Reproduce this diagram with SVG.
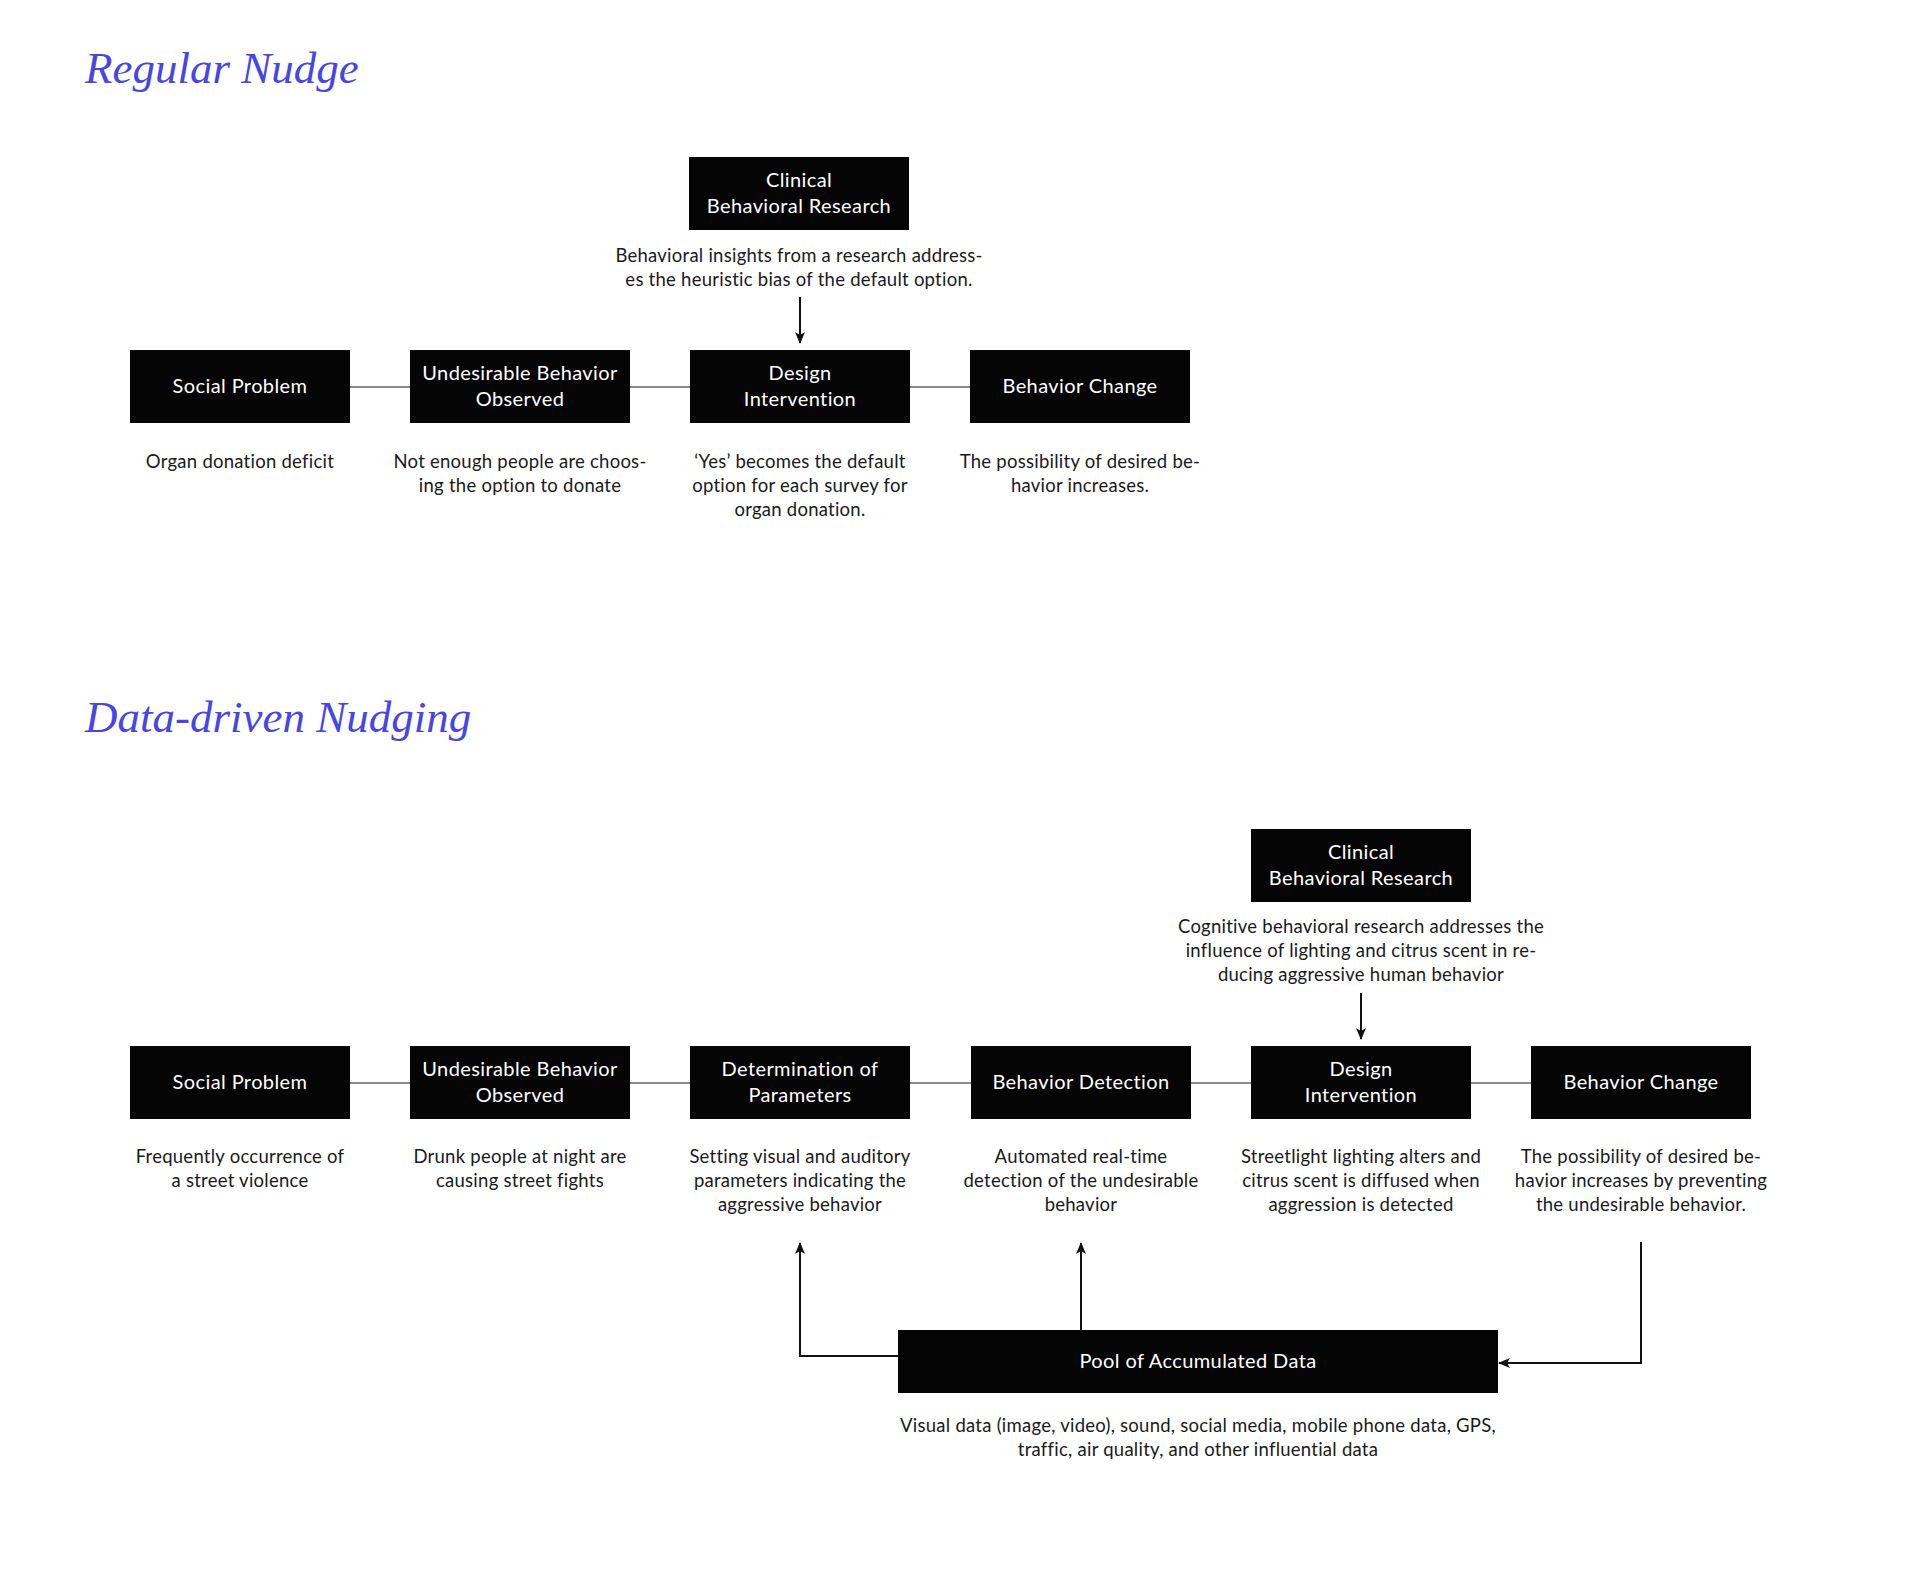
<svg xmlns="http://www.w3.org/2000/svg" width="1912" height="1592" viewBox="0 0 1912 1592">
<style>
.title{font-family:"Liberation Serif",serif;font-style:italic;font-size:45px;fill:#4646E6}
.box{fill:#050505}
.lbl{font-family:Lato,"Open Sans",sans-serif;font-size:20px;letter-spacing:0.4px;fill:#fff;text-anchor:middle}
.desc{font-family:Lato,"Open Sans",sans-serif;font-size:18.5px;letter-spacing:0.25px;fill:#1a1a1a;text-anchor:middle}
.link{stroke:#8a8a8a;stroke-width:2;fill:none}
.arr{stroke:#111;stroke-width:2;fill:none;marker-end:url(#ah)}
</style>
<defs>
<marker id="ah" viewBox="0 0 12 12" refX="11" refY="6" markerWidth="12" markerHeight="12" markerUnits="userSpaceOnUse" orient="auto">
<path d="M0,1 L12,6 L0,11 L3,6 z" fill="#111"/>
</marker>
</defs>
<rect width="1912" height="1592" fill="#fff"/>
<text class="title" x="85" y="83">Regular Nudge</text>
<text class="title" x="85" y="732">Data-driven Nudging</text>

<g id="connectors">
<line class="link" x1="350" y1="387" x2="410" y2="387"/>
<line class="link" x1="630" y1="387" x2="690" y2="387"/>
<line class="link" x1="910" y1="387" x2="970" y2="387"/>
<line class="arr" x1="800" y1="297" x2="800" y2="343"/>
<line class="link" x1="350" y1="1083" x2="410" y2="1083"/>
<line class="link" x1="630" y1="1083" x2="690" y2="1083"/>
<line class="link" x1="910" y1="1083" x2="971" y2="1083"/>
<line class="link" x1="1191" y1="1083" x2="1251" y2="1083"/>
<line class="link" x1="1471" y1="1083" x2="1531" y2="1083"/>
<line class="arr" x1="1361" y1="993" x2="1361" y2="1039"/>
<polyline class="arr" points="898,1356 800,1356 800,1243"/>
<line class="arr" x1="1081" y1="1330" x2="1081" y2="1243"/>
<polyline class="arr" points="1641,1242 1641,1363 1499,1363"/>
</g>

<g id="top-clinical">
<rect class="box" x="689" y="157" width="220" height="73"/>
<text class="lbl" x="799" y="187">Clinical</text>
<text class="lbl" x="799" y="213">Behavioral Research</text>
<text class="desc" x="799" y="262">Behavioral insights from a research address-</text>
<text class="desc" x="799" y="286">es the heuristic bias of the default option.</text>
</g>
<g id="top-social">
<rect class="box" x="130" y="350" width="220" height="73"/>
<text class="lbl" x="240" y="393">Social Problem</text>
<text class="desc" x="240" y="468">Organ donation deficit</text>
</g>
<g id="top-undesirable">
<rect class="box" x="410" y="350" width="220" height="73"/>
<text class="lbl" x="520" y="380">Undesirable Behavior</text>
<text class="lbl" x="520" y="406">Observed</text>
<text class="desc" x="520" y="468">Not enough people are choos-</text>
<text class="desc" x="520" y="492">ing the option to donate</text>
</g>
<g id="top-design">
<rect class="box" x="690" y="350" width="220" height="73"/>
<text class="lbl" x="800" y="380">Design</text>
<text class="lbl" x="800" y="406">Intervention</text>
<text class="desc" x="800" y="468">‘Yes’ becomes the default</text>
<text class="desc" x="800" y="492">option for each survey for</text>
<text class="desc" x="800" y="516">organ donation.</text>
</g>
<g id="top-change">
<rect class="box" x="970" y="350" width="220" height="73"/>
<text class="lbl" x="1080" y="393">Behavior Change</text>
<text class="desc" x="1080" y="468">The possibility of desired be-</text>
<text class="desc" x="1080" y="492">havior increases.</text>
</g>

<g id="bot-clinical">
<rect class="box" x="1251" y="829" width="220" height="73"/>
<text class="lbl" x="1361" y="859">Clinical</text>
<text class="lbl" x="1361" y="885">Behavioral Research</text>
<text class="desc" x="1361" y="933">Cognitive behavioral research addresses the</text>
<text class="desc" x="1361" y="957">influence of lighting and citrus scent in re-</text>
<text class="desc" x="1361" y="981">ducing aggressive human behavior</text>
</g>
<g id="bot-social">
<rect class="box" x="130" y="1046" width="220" height="73"/>
<text class="lbl" x="240" y="1089">Social Problem</text>
<text class="desc" x="240" y="1163">Frequently occurrence of</text>
<text class="desc" x="240" y="1187">a street violence</text>
</g>
<g id="bot-undesirable">
<rect class="box" x="410" y="1046" width="220" height="73"/>
<text class="lbl" x="520" y="1076">Undesirable Behavior</text>
<text class="lbl" x="520" y="1102">Observed</text>
<text class="desc" x="520" y="1163">Drunk people at night are</text>
<text class="desc" x="520" y="1187">causing street fights</text>
</g>
<g id="bot-determination">
<rect class="box" x="690" y="1046" width="220" height="73"/>
<text class="lbl" x="800" y="1076">Determination of</text>
<text class="lbl" x="800" y="1102">Parameters</text>
<text class="desc" x="800" y="1163">Setting visual and auditory</text>
<text class="desc" x="800" y="1187">parameters indicating the</text>
<text class="desc" x="800" y="1211">aggressive behavior</text>
</g>
<g id="bot-detection">
<rect class="box" x="971" y="1046" width="220" height="73"/>
<text class="lbl" x="1081" y="1089">Behavior Detection</text>
<text class="desc" x="1081" y="1163">Automated real-time</text>
<text class="desc" x="1081" y="1187">detection of the undesirable</text>
<text class="desc" x="1081" y="1211">behavior</text>
</g>
<g id="bot-design">
<rect class="box" x="1251" y="1046" width="220" height="73"/>
<text class="lbl" x="1361" y="1076">Design</text>
<text class="lbl" x="1361" y="1102">Intervention</text>
<text class="desc" x="1361" y="1163">Streetlight lighting alters and</text>
<text class="desc" x="1361" y="1187">citrus scent is diffused when</text>
<text class="desc" x="1361" y="1211">aggression is detected</text>
</g>
<g id="bot-change">
<rect class="box" x="1531" y="1046" width="220" height="73"/>
<text class="lbl" x="1641" y="1089">Behavior Change</text>
<text class="desc" x="1641" y="1163">The possibility of desired be-</text>
<text class="desc" x="1641" y="1187">havior increases by preventing</text>
<text class="desc" x="1641" y="1211">the undesirable behavior.</text>
</g>
<g id="pool">
<rect class="box" x="898" y="1330" width="600" height="63"/>
<text class="lbl" x="1198" y="1368">Pool of Accumulated Data</text>
<text class="desc" x="1198" y="1432">Visual data (image, video), sound, social media, mobile phone data, GPS,</text>
<text class="desc" x="1198" y="1456">traffic, air quality, and other influential data</text>
</g>
</svg>
